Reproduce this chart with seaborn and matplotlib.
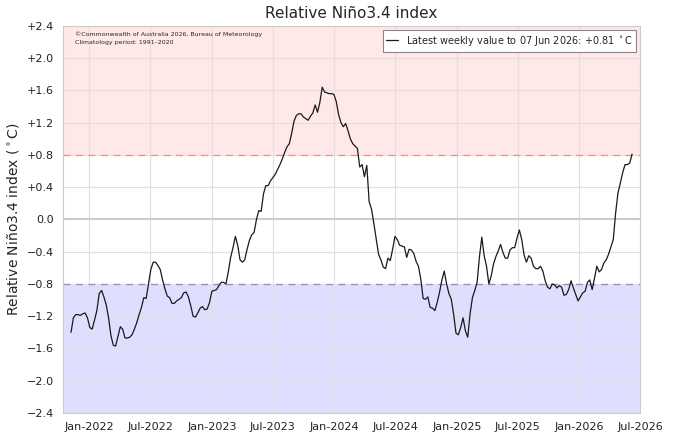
#Import packages
import seaborn as sns
import matplotlib.pyplot as plt
import matplotlib.dates as mdates
import pandas as pd

#Weekly relative Nino3.4 values (week ending Sunday)
nino_2021 = [-1.40, -1.22, -1.18, -1.18, -1.19, -1.17, -1.16, -1.22]
nino_2022 = [-1.34, -1.36, -1.25, -1.13, -0.92, -0.88, -0.96, -1.06, -1.22, -1.44,
             -1.56, -1.57, -1.45, -1.33, -1.36, -1.47, -1.47, -1.46, -1.43, -1.36,
             -1.28, -1.18, -1.09, -0.97, -0.98, -0.80, -0.62, -0.53, -0.53, -0.57,
             -0.62, -0.75, -0.86, -0.95, -0.97, -1.04, -1.04, -1.01, -0.99, -0.97,
             -0.91, -0.90, -0.96, -1.07, -1.20, -1.21, -1.16, -1.10, -1.08, -1.12,
             -1.11, -1.03]
nino_2023 = [-0.89, -0.88, -0.87, -0.82, -0.78, -0.78, -0.80, -0.65, -0.47, -0.35,
             -0.21, -0.32, -0.50, -0.53, -0.50, -0.37, -0.26, -0.19, -0.16, 0.00,
             0.11, 0.10, 0.32, 0.42, 0.42, 0.48, 0.52, 0.56, 0.62, 0.68,
             0.75, 0.83, 0.90, 0.94, 1.07, 1.22, 1.29, 1.31, 1.31, 1.27,
             1.25, 1.23, 1.28, 1.32, 1.42, 1.33, 1.45, 1.64, 1.58, 1.57,
             1.56, 1.56, 1.55]
nino_2024 = [1.46, 1.30, 1.20, 1.15, 1.19, 1.10, 1.00, 0.94, 0.91, 0.88,
             0.65, 0.68, 0.53, 0.67, 0.22, 0.13, -0.05, -0.24, -0.43, -0.50,
             -0.59, -0.61, -0.48, -0.51, -0.37, -0.21, -0.25, -0.32, -0.33, -0.34,
             -0.47, -0.37, -0.38, -0.42, -0.52, -0.58, -0.74, -0.98, -0.99, -0.96,
             -1.09, -1.10, -1.13, -1.03, -0.90, -0.75, -0.64, -0.80, -0.92, -0.99,
             -1.18, -1.41]
nino_2025 = [-1.43, -1.34, -1.22, -1.38, -1.46, -1.17, -0.97, -0.88, -0.78, -0.46,
             -0.22, -0.45, -0.58, -0.80, -0.70, -0.55, -0.46, -0.39, -0.31, -0.41,
             -0.48, -0.48, -0.38, -0.35, -0.35, -0.23, -0.13, -0.25, -0.44, -0.53,
             -0.45, -0.48, -0.58, -0.61, -0.61, -0.58, -0.64, -0.76, -0.84, -0.86,
             -0.80, -0.81, -0.85, -0.82, -0.84, -0.94, -0.93, -0.87, -0.76, -0.85,
             -0.93, -1.01]
nino_2026 = [-0.96, -0.91, -0.89, -0.78, -0.75, -0.87, -0.73, -0.58, -0.65, -0.62,
             -0.54, -0.50, -0.43, -0.34, -0.25, 0.08, 0.33, 0.45, 0.58, 0.68,
             0.68, 0.70, 0.81]
first_week = "2021-11-07"
last_week = "2026-06-07"

#Axis settings
yticks = [-2.4, -2.0, -1.6, -1.2, -0.8, -0.4, 0.0, 0.4, 0.8, 1.2, 1.6, 2.0, 2.4]
threshold = 0.8

values = nino_2021 + nino_2022 + nino_2023 + nino_2024 + nino_2025 + nino_2026
df = pd.DataFrame({"date": pd.date_range(first_week, last_week, freq="W-SUN"),
                   "nino34": values})

sns.set_style("white")
plt.rcParams['font.family'] = ['DejaVu Sans']
fig = plt.figure(figsize=(6.75, 4.32), dpi=100) #Set figure
ax = fig.add_axes([0.0933, 0.044, 0.855, 0.896])

#Shaded El Nino / La Nina zones and thresholds
ax.axhspan(threshold, 2.4, color='red', alpha=0.09, lw=0, zorder=0)
ax.axhspan(-2.4, -threshold, color='blue', alpha=0.13, lw=0, zorder=0)
ax.axhline(threshold, color='red', alpha=0.35, ls=(0, (5, 4)), lw=1, zorder=1)
ax.axhline(-threshold, color='#5050b0', alpha=0.55, ls=(0, (5, 4)), lw=1, zorder=1)
ax.axhline(0, color='#cccccc', lw=1.5, zorder=1)

#Define lineplot
sns.lineplot(data=df, x="date", y="nino34", color='#1a1a1a', lw=0.9, ax=ax,
             label="Latest weekly value to 07 Jun 2026: %+.2f $^\\circ$C" % values[-1])

ax.set_xlim(pd.Timestamp("2021-10-14"), pd.Timestamp("2026-07-01"))
ax.set_ylim(-2.4, 2.4)
ax.set_yticks(yticks)
ax.set_yticklabels(["0.0" if v == 0 else ("%+.1f" % v).replace("-", "\u2212") for v in yticks])
ax.xaxis.set_major_locator(mdates.MonthLocator(bymonth=[1, 7]))
ax.xaxis.set_major_formatter(mdates.DateFormatter('%b-%Y'))
ax.grid(True, color='#e0e0e0', lw=0.8, zorder=0)
ax.set_axisbelow(True)
ax.tick_params(axis='both', labelsize=8, length=3, color='#bbbbbb', colors='#222222')
for s in ax.spines.values():
    s.set_color('#cccccc')

ax.set_title('Relative Niño3.4 index', fontsize=11) #Set plot title
ax.set_ylabel('Relative Niño3.4 index ($^\\circ$C)', fontsize=10) #Set Y label
ax.set_xlabel('')
ax.text(0.02, 0.985, "©Commonwealth of Australia 2026, Bureau of Meteorology\nClimatology period: 1991\u20132020",
        transform=ax.transAxes, fontsize=4.5, va='top', ha='left', linespacing=1.7)
leg = ax.legend(loc='upper right', fontsize=7, fancybox=False, framealpha=1,
                edgecolor='#888888', handlelength=1.2, borderaxespad=0.4)
leg.get_frame().set_linewidth(0.8)

plt.savefig("out.png") #Export figure
